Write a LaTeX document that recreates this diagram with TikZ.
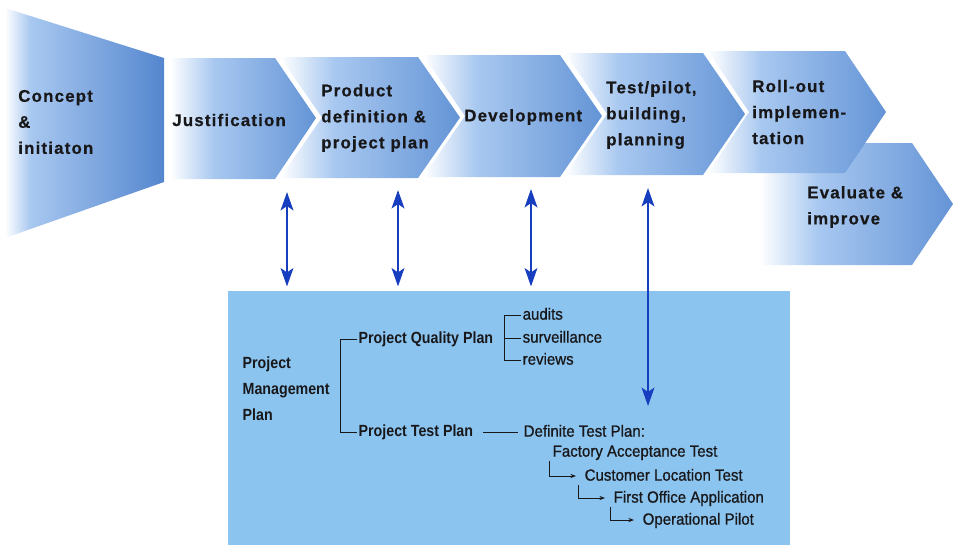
\documentclass[tikz,border=0pt]{standalone}
\usepackage{fontspec}
\setmainfont{Liberation Sans}
\newfontfamily\phasefont[LetterSpace=7,FakeBold=0.6]{Liberation Sans}
\newfontfamily\planbf[FakeStretch=0.88]{Liberation Sans Bold}
\newfontfamily\planrm[FakeStretch=0.93,FakeBold=0.9]{Liberation Sans}
\usetikzlibrary{arrows.meta}

\definecolor{ink}{RGB}{24,24,26}
\definecolor{phaselight}{RGB}{168,200,240}
\definecolor{phasedark}{RGB}{100,148,214}
\definecolor{conceptdark}{RGB}{84,134,206}
\definecolor{planfill}{RGB}{140,196,240}
\definecolor{linkblue}{RGB}{22,62,190}

\pgfdeclarehorizontalshading{phasefade}{100bp}{color(0bp)=(white); color(25bp)=(white); color(40bp)=(phaselight); color(75bp)=(phasedark); color(100bp)=(phasedark)}
\pgfdeclarehorizontalshading{conceptfade}{100bp}{color(0bp)=(white); color(25bp)=(white); color(33bp)=(phaselight); color(75bp)=(conceptdark); color(100bp)=(conceptdark)}

\begin{document}
\begin{tikzpicture}[x=0.025cm,y=-0.025cm,
  phasetext/.style={anchor=west,inner sep=0pt,align=left,text=ink,
    font=\phasefont\bfseries\fontsize{12}{18.5}\selectfont},
  plantext/.style={anchor=west,inner sep=1pt,text=ink,
    font=\planbf\fontsize{11.5}{18.5}\selectfont},
  planhead/.style={plantext,text height=1.6ex,text depth=.35ex},
  planitem/.style={planhead,font=\planrm\fontsize{11.5}{14}\selectfont},
  twoway/.style={{Stealth[length=13pt,width=9pt,inset=3pt]}-{Stealth[length=13pt,width=9pt,inset=3pt]},
    line width=1.8pt,draw=linkblue,shorten >=3pt},
  tree/.style={draw=ink,line width=0.6pt},
  elbow/.style={tree,-{Stealth[length=4pt,width=3pt]},shorten >=5pt}]

\useasboundingbox (0,0) rectangle (957,548);

% phases
\shade[shading=conceptfade] (5,8) -- (164,58) -- (164,182) -- (5,238) -- cycle;
\shade[shading=phasefade] (760,143) -- (912,143) -- (953,204) -- (912,265) -- (760,265) -- cycle;
\shade[shading=phasefade] (170,58) -- (275,58) -- (316,118) -- (275,179) -- (170,179) -- cycle;
\foreach \l/\s/\t/\u/\b in {280/418/460/57/178,423/560/602/55/177,565/703/745/53/175,708/845/886/51/173}
  \shade[shading=phasefade] (\l,\u) -- (\s,\u) -- (\t,{(\u+\b)/2}) -- (\s,\b) -- (\l,\b)
    -- ({\l+\t-\s},{(\u+\b)/2}) -- cycle;

\node[phasetext] (concept)  at (18,122)  {Concept\\\&\\initiaton};
\node[phasetext] (justif)   at (172,120) {Justification};
\node[phasetext] (product)  at (321,118) {Product\\definition \&\\project plan};
\node[phasetext] (devel)    at (464,117) {Development};
\node[phasetext] (test)     at (606,115) {Test/pilot,\\building,\\planning};
\node[phasetext] (rollout)  at (752,112) {Roll-out\\implemen-\\tation};
\node[phasetext] (evaluate) at (807,207) {Evaluate \&\\improve};

% plan box
\node[fill=planfill,minimum width=14.05cm,minimum height=6.35cm,inner sep=0pt] (plan) at (509,418) {};

\coordinate (j) at (287,192);
\coordinate (p) at (398,190);
\coordinate (d) at (531,189);
\coordinate (t) at (648,188);
\coordinate (tend) at (648,406);
\draw[twoway] (j) -- (j |- plan.north);
\draw[twoway] (p) -- (p |- plan.north);
\draw[twoway] (d) -- (d |- plan.north);
\draw[twoway,shorten >=0pt] (t) -- (tend);

\node[plantext,align=left] (pmp) at (241,389) {Project\\Management\\Plan};
\node[planhead] (pqp)     at (357,339) {Project Quality Plan};
\node[planhead] (ptp)     at (357,432) {Project Test Plan};
\node[planitem] (audits)  at (521,315) {audits};
\node[planitem] (surv)    at (521,338) {surveillance};
\node[planitem] (reviews) at (521,360) {reviews};
\node[planitem] (dtp)     at (522,432) {Definite Test Plan:};
\node[planitem] (fat)     at (551,452) {Factory Acceptance Test};
\node[planitem] (clt)     at (583,476) {Customer Location Test};
\node[planitem] (foa)     at (612,498) {First Office Application};
\node[planitem] (op)      at (641,520) {Operational Pilot};

\draw[tree] (pqp.west) -- ++(-17,0) |- (ptp.west);
\draw[tree] (audits.west) -- ++(-17,0) |- (reviews.west);
\draw[tree] (surv.west) -- ++(-17,0);
\draw[tree,shorten <=6pt,shorten >=3pt] (ptp.east) -- (dtp.west);
\draw[elbow] ([xshift=-1pt]fat.south west) |- (clt.west);
\draw[elbow] ([xshift=-3pt]clt.south west) |- (foa.west);
\draw[elbow] ([xshift=-1pt]foa.south west) |- (op.west);
\end{tikzpicture}
\end{document}
